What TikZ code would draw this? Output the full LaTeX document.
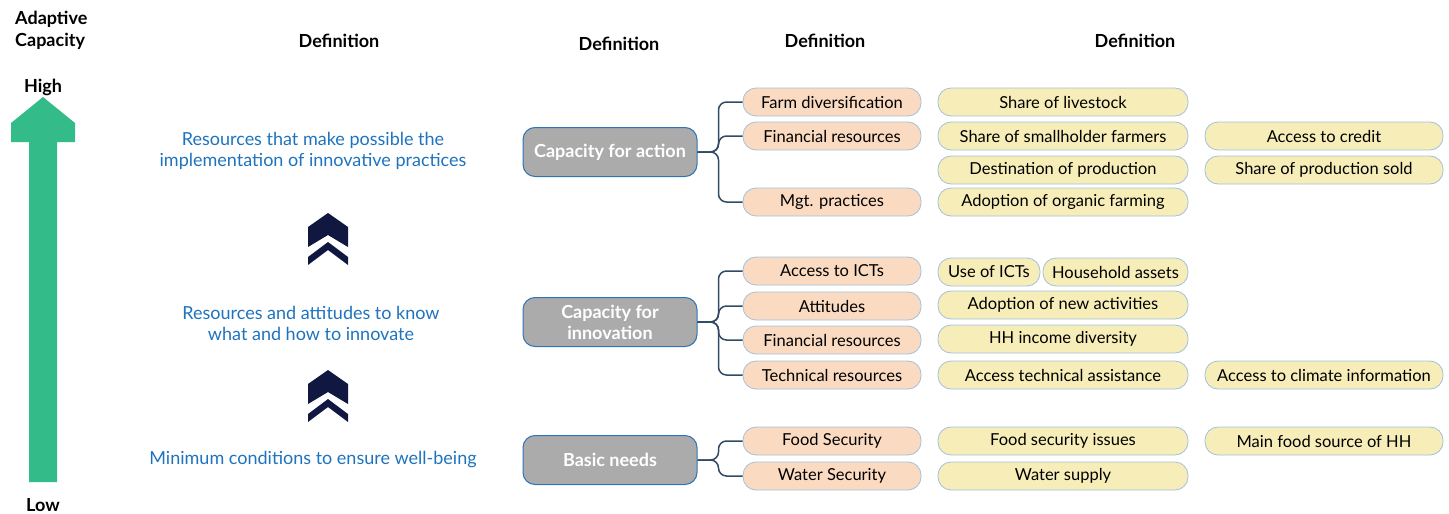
\documentclass[tikz,border=0pt]{standalone}
\usepackage{fontspec}
\setmainfont{Lato}
\usetikzlibrary{positioning}
\definecolor{arrowgreen}{RGB}{52,187,138}
\definecolor{chevnavy}{RGB}{16,24,66}
\definecolor{textblue}{RGB}{30,115,190}
\definecolor{capgrey}{RGB}{171,171,171}
\definecolor{capborder}{RGB}{46,117,182}
\definecolor{pillborder}{RGB}{160,192,222}
\definecolor{dimorange}{RGB}{250,219,193}
\definecolor{indyellow}{RGB}{247,237,185}
\definecolor{linkslate}{RGB}{50,75,100}
\tikzstyle{capbox}=[draw=capborder,fill=capgrey,line width=1pt,rounded corners=12pt,minimum width=174pt,minimum height=49pt,align=center,text=white,font=\fontsize{18}{21}\selectfont\bfseries]
\tikzstyle{dimbox}=[draw=pillborder,fill=dimorange,line width=0.8pt,rounded corners=13pt,minimum width=178pt,minimum height=28pt,inner sep=0pt,font=\fontsize{16.5}{18}\selectfont]
\tikzstyle{indbox}=[draw=pillborder,fill=indyellow,line width=0.8pt,rounded corners=13pt,minimum width=250pt,minimum height=28pt,inner sep=0pt,font=\fontsize{16.5}{18}\selectfont]
\tikzstyle{indwide}=[indbox,minimum width=238pt]
\tikzstyle{heading}=[font=\fontsize{18}{22}\selectfont\bfseries,inner sep=0pt]
\tikzstyle{deftext}=[text=textblue,align=center,font=\fontsize{18}{21}\selectfont,inner sep=0pt]
\tikzstyle{link}=[draw=linkslate,line width=1.5pt,rounded corners=8pt]

\begin{document}
\begin{tikzpicture}[x=1pt,y=-1pt]
    \useasboundingbox (0,0) rectangle (1449,514);

    % left scale
    \node[heading,anchor=west,align=left] (scale) at (15,30) {Adaptive\\Capacity};
    \node[heading] (high) at (43,87) {High};
    \node[heading] (low) at (43,505) {Low};
    \fill[arrowgreen] (43,97) -- (75,123) -- (75,142) -- (57,142) -- (57,482)
        -- (29,482) -- (29,142) -- (11,142) -- (11,123) -- cycle;

    % column headings
    \node[heading] (def1) at (339,41) {Definition};
    \node[heading] (def2) at (619,44) {Definition};
    \node[heading] (def3) at (825,41) {Definition};
    \node[heading] (def4) at (1135,41) {Definition};

    % definitions
    \node[deftext] (def-act) at (313,151) {Resources that make possible the\\implementation of innovative practices};
    \node[deftext] (def-inn) at (311,323) {Resources and attitudes to know\\what and how to innovate};
    \node[deftext] (def-basic) at (313,460) {Minimum conditions to ensure well-being};

    % chevrons
    \foreach \dy in {0,157} {
        \fill[chevnavy] (328,213+\dy) -- (348,227+\dy) -- (348,247+\dy) -- (328,235+\dy)
            -- (308,247+\dy) -- (308,227+\dy) -- cycle;
        \fill[chevnavy] (328,242+\dy) -- (348,257+\dy) -- (348,265+\dy) -- (328,250+\dy)
            -- (308,265+\dy) -- (308,257+\dy) -- cycle;
    }

    % capacities
    \node[capbox] (cap-act) at (610,152) {Capacity for action};
    \node[capbox] (cap-inn) at (610,322) {Capacity for\\innovation};
    \node[capbox] (basic) at (610,460) {Basic needs};

    % dimensions
    \node[dimbox] (farm) at (832,102) {Farm diversification};
    \node[dimbox] (fin-act) at (832,136) {Financial resources};
    \node[dimbox] (mgt) at (832,202) {Mgt. practices};
    \node[dimbox] (ict) at (832,271) {Access to ICTs};
    \node[dimbox] (att) at (832,306) {Attitudes};
    \node[dimbox] (fin-inn) at (832,340) {Financial resources};
    \node[dimbox] (tech) at (832,375) {Technical resources};
    \node[dimbox] (food) at (832,441) {Food Security};
    \node[dimbox] (water) at (832,476) {Water Security};

    % links
    \foreach \dim in {farm,fin-act,mgt}
        \draw[link] (cap-act.east) -- ++(21,0) |- (\dim.west);
    \foreach \dim in {ict,att,fin-inn,tech}
        \draw[link] (cap-inn.east) -- ++(21,0) |- (\dim.west);
    \foreach \dim in {food,water}
        \draw[link] (basic.east) -- ++(21,0) |- (\dim.west);

    % indicators
    \node[indbox] (livestock) at (1063,102) {Share of livestock};
    \node[indbox] (smallholder) at (1063,136) {Share of smallholder farmers};
    \node[indwide] (credit) at (1324,136) {Access to credit};
    \node[indbox] (destination) at (1063,170) {Destination of production};
    \node[indwide] (sold) at (1324,170) {Share of production sold};
    \node[indbox] (organic) at (1063,202) {Adoption of organic farming};
    \node[indbox,minimum width=102pt] (use-ict) at (989,272) {Use of ICTs};
    \node[indbox,minimum width=145pt] (assets) at (1115.5,272) {Household assets};
    \node[indbox] (activities) at (1063,305) {Adoption of new activities};
    \node[indbox] (income) at (1063,339) {HH income diversity};
    \node[indbox] (assistance) at (1063,375) {Access technical assistance};
    \node[indwide] (climate) at (1324,375) {Access to climate information};
    \node[indbox] (food-issues) at (1063,441) {Food security issues};
    \node[indwide] (food-source) at (1324,441) {Main food source of HH};
    \node[indbox] (supply) at (1063,476) {Water supply};
\end{tikzpicture}
\end{document}
